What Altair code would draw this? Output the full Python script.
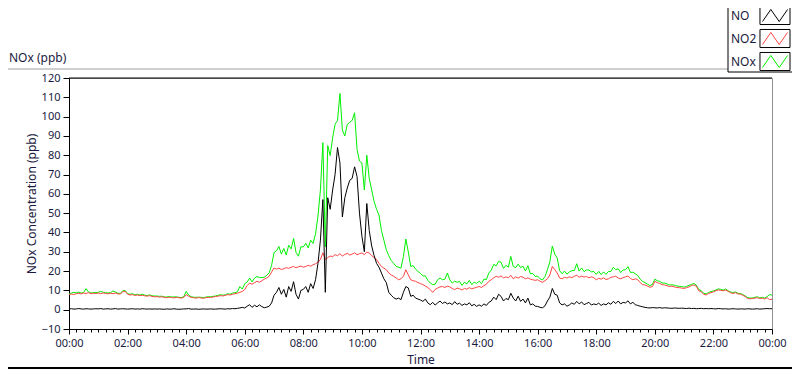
import altair as alt
import pandas as pd

# ---------------- data (5-minute readings, 00:00 .. 24:00) ----------------
series_names = ["NO", "NO2", "NOx"]
series_colors = ["#000000", "#ff4444", "#00f000"]
step_minutes = 5

no_ppb = [
    0.4, 0.5, 0.3, 0.4, 0.6, 0.4, 0.3, 0.5, 0.4, 0.3, 0.4, 0.5,   # 00
    0.4, 0.6, 0.3, 0.4, 0.5, 0.3, 0.4, 0.6, 0.3, 0.4, 0.5, 0.4,   # 01
    0.3, 0.4, 0.5, 0.3, 0.4, 0.3, 0.5, 0.4, 0.3, 0.4, 0.3, 0.4,   # 02
    0.3, 0.4, 0.3, 0.2, 0.4, 0.3, 0.3, 0.5, 0.3, 0.2, 0.3, 0.4,   # 03
    0.4, 0.6, 0.3, 0.3, 0.4, 0.2, 0.3, 0.4, 0.3, 0.3, 0.4, 0.3,   # 04
    0.3, 0.4, 0.5, 0.4, 0.3, 0.5, 0.4, 0.6, 0.5, 0.7, 0.9, 1.2,   # 05
    0.9, 1.8, 2.6, 1.2, 2.3, 1.5, 2.5, 1.6, 1.0, 1.3, 1.8, 3.5,   # 06
    7.5, 9.0, 11.5, 8.0, 10.5, 6.5, 12.0, 9.5, 14.5, 8.0, 5.5, 10.0,  # 07
    10.5, 12.0, 9.0, 13.5, 11.0, 15.5, 24.0, 36.0, 57.0, 9.0, 58.0, 52.0,  # 08
    62.0, 70.0, 84.0, 76.0, 48.0, 58.0, 63.0, 67.0, 68.0, 74.0, 69.0, 50.0,  # 09
    38.0, 30.0, 55.0, 41.0, 33.0, 28.0, 24.0, 22.0, 19.0, 16.0, 14.0, 9.0,  # 10
    7.5, 6.2, 5.5, 6.0, 5.2, 9.0, 12.0, 11.3, 6.9, 7.5, 6.0, 5.5,   # 11
    5.0, 4.3, 5.5, 3.5, 2.6, 3.8, 2.4, 3.5, 4.5, 3.2, 4.0, 3.0,   # 12
    3.5, 2.6, 4.2, 2.8, 3.4, 2.2, 3.0, 2.5, 3.6, 2.0, 2.8, 1.7,   # 13
    2.5, 1.8, 3.0, 2.2, 3.8, 4.5, 6.5, 5.2, 8.0, 6.9, 4.5, 5.8,   # 14
    5.2, 8.5, 6.0, 4.5, 7.0, 4.3, 5.5, 3.5, 6.0, 2.5, 3.0, 1.8,   # 15
    1.7, 1.2, 1.0, 2.0, 4.5, 6.5, 11.0, 8.0, 7.5, 3.5, 2.5, 3.0,  # 16
    1.8, 2.5, 3.5, 2.8, 4.3, 3.0, 4.0, 2.6, 3.2, 3.8, 2.4, 3.0,   # 17
    2.6, 3.4, 2.2, 3.0, 2.5, 3.6, 2.8, 4.3, 3.2, 4.5, 3.0, 3.8,   # 18
    3.5, 4.6, 3.0, 3.8, 2.6, 2.2, 1.8, 1.5, 1.2, 1.0, 0.9, 1.1,   # 19
    1.0, 0.9, 1.1, 0.8, 1.0, 0.9, 0.8, 0.7, 0.9, 0.8, 0.7, 0.8,   # 20
    0.7, 0.6, 0.8, 0.6, 0.7, 0.5, 0.6, 0.7, 0.5, 0.6, 0.5, 0.6,   # 21
    0.5, 0.4, 0.6, 0.5, 0.4, 0.5, 0.3, 0.4, 0.5, 0.4, 0.3, 0.4,   # 22
    0.4, 0.3, 0.5, 0.4, 0.3, 0.4, 0.5, 0.3, 0.4, 0.5, 0.6, 0.5,   # 23
    0.5,
]

no2_ppb = [
    7.8, 8.1, 7.9, 8.3, 8.5, 8.2, 8.6, 8.4, 8.8, 8.3, 8.5, 8.4,   # 00
    8.6, 8.3, 8.7, 8.4, 8.2, 8.5, 8.3, 8.6, 8.2, 8.1, 9.2, 9.6,   # 01
    8.0, 7.6, 7.8, 7.4, 7.6, 7.3, 7.5, 7.2, 7.0, 7.3, 6.9, 6.7,   # 02
    6.8, 6.5, 6.7, 6.4, 6.2, 6.5, 6.3, 6.1, 6.4, 6.2, 6.0, 6.3,   # 03
    7.8, 7.0, 6.4, 6.2, 6.0, 6.3, 6.1, 5.9, 6.2, 6.4, 6.3, 6.6,   # 04
    6.8, 7.0, 7.3, 7.1, 7.4, 7.8, 7.6, 8.0, 8.3, 8.6, 9.0, 9.5,   # 05
    10.5, 12.5, 13.8, 13.2, 14.0, 14.7, 14.2, 15.0, 15.8, 16.5, 17.3, 19.5,  # 06
    21.6, 21.0, 21.5, 20.8, 21.2, 21.8, 21.4, 22.0, 22.4, 21.7, 22.2, 22.6,  # 07
    22.0, 22.4, 23.0, 22.5, 23.3, 23.8, 24.5, 26.0, 29.5, 26.0, 27.0, 27.8,  # 08
    27.5, 28.5, 28.0, 29.0, 27.8, 28.6, 29.2, 28.3, 28.8, 29.5, 28.4, 29.0,  # 09
    29.4, 28.5, 29.8, 29.4, 28.0, 27.0, 26.0, 24.0, 22.4, 21.5, 20.7, 19.0,  # 10
    18.0, 17.3, 16.5, 15.5, 16.0, 17.3, 20.7, 18.0, 15.5, 15.0, 14.7, 14.0,  # 11
    13.5, 13.0, 12.2, 11.5, 10.4, 9.0, 10.5, 11.2, 11.8, 12.0, 11.5, 12.2,  # 12
    11.8, 11.0, 10.4, 11.2, 10.8, 10.2, 11.0, 10.6, 11.4, 10.8, 11.2, 11.6,  # 13
    12.0, 11.5, 12.5, 13.2, 14.7, 15.5, 16.5, 17.3, 16.8, 17.5, 16.5, 17.0,  # 14
    16.5, 17.8, 16.0, 17.0, 16.4, 17.2, 16.8, 16.0, 16.5, 15.8, 15.5, 15.2,  # 15
    15.5, 14.7, 14.2, 15.0, 16.0, 18.0, 22.4, 20.7, 19.0, 16.4, 16.0, 16.8,  # 16
    16.4, 17.0, 16.6, 17.3, 17.8, 16.8, 17.4, 16.9, 17.2, 16.5, 17.0, 16.6,  # 17
    15.5, 16.2, 15.8, 16.5, 15.6, 16.0, 16.8, 17.0, 17.3, 16.4, 16.0, 16.6,  # 18
    17.0, 17.5, 16.2, 15.5, 16.0, 15.5, 14.0, 13.0, 12.8, 12.2, 11.6, 12.0,  # 19
    14.7, 14.0, 13.6, 13.0, 12.8, 12.4, 12.0, 12.2, 11.8, 11.5, 11.4, 11.2,  # 20
    11.0, 11.4, 11.8, 12.5, 12.8, 12.2, 9.8, 9.2, 8.0, 7.6, 8.4, 8.8,   # 21
    9.2, 9.8, 10.2, 10.0, 9.8, 10.2, 9.5, 8.8, 8.4, 8.8, 8.2, 8.0,   # 22
    7.5, 6.8, 5.8, 5.6, 5.8, 6.0, 6.2, 5.8, 6.0, 5.5, 6.2, 5.2,   # 23
    5.4,
]

nox_ppb = [
    8.2, 8.6, 9.0, 8.7, 9.1, 8.6, 8.9, 10.9, 9.2, 8.6, 8.9, 8.9,   # 00
    9.0, 9.5, 9.0, 8.8, 8.7, 8.8, 9.7, 9.2, 8.5, 8.5, 9.7, 10.0,   # 01
    8.3, 8.0, 8.3, 7.7, 8.0, 7.6, 8.0, 7.6, 7.3, 7.7, 7.2, 7.1,   # 02
    7.1, 6.9, 7.0, 6.6, 6.6, 6.8, 6.6, 6.6, 6.7, 6.4, 6.3, 6.7,   # 03
    9.5, 7.6, 6.7, 6.5, 6.4, 6.5, 6.4, 6.3, 6.5, 6.7, 6.7, 6.9,   # 04
    7.1, 7.4, 7.8, 7.5, 7.7, 8.3, 8.0, 8.6, 8.8, 9.3, 12.0, 10.7,  # 05
    13.5, 14.3, 16.4, 14.4, 16.3, 17.2, 16.7, 16.6, 16.8, 17.8, 19.1, 23.0,  # 06
    29.6, 30.5, 32.7, 28.8, 31.7, 28.3, 33.4, 31.5, 36.9, 29.7, 27.7, 32.6,  # 07
    32.5, 34.4, 32.0, 36.0, 34.3, 39.3, 48.5, 62.0, 86.5, 32.5, 85.0, 79.8,  # 08
    89.0, 96.0, 98.0, 112.0, 93.0, 90.0, 96.0, 97.0, 98.0, 102.0, 83.0, 77.0,  # 09
    76.0, 62.0, 80.0, 68.0, 62.0, 56.0, 52.0, 49.0, 41.0, 36.0, 31.0, 28.0,  # 10
    25.5, 24.0, 22.5, 22.0, 21.5, 27.5, 36.6, 30.0, 22.4, 22.8, 21.0, 19.8,  # 11
    18.8, 17.5, 17.5, 15.2, 13.8, 13.0, 13.2, 15.5, 16.4, 15.5, 15.8, 19.0,  # 12
    15.5, 13.8, 14.8, 14.2, 14.6, 12.6, 14.2, 13.4, 15.2, 13.0, 14.2, 13.6,  # 13
    14.7, 13.5, 15.8, 15.6, 19.0, 20.5, 23.5, 22.7, 25.0, 24.6, 21.4, 23.0,  # 14
    22.0, 27.6, 22.3, 21.8, 23.6, 21.8, 22.5, 20.0, 22.8, 18.6, 18.8, 17.2,  # 15
    17.4, 16.0, 15.4, 17.2, 20.7, 24.8, 33.0, 28.8, 26.8, 20.2, 18.6, 20.0,  # 16
    18.4, 19.6, 20.2, 20.3, 23.8, 20.0, 21.6, 19.7, 20.6, 20.5, 19.6, 19.8,  # 17
    18.3, 19.8, 18.2, 19.6, 18.3, 19.8, 19.8, 22.0, 20.7, 21.2, 19.2, 20.6,  # 18
    20.7, 22.3, 19.3, 19.4, 18.6, 17.7, 15.8, 14.6, 14.0, 13.2, 12.5, 13.1,  # 19
    15.8, 15.0, 14.7, 13.8, 13.8, 13.3, 12.8, 12.9, 12.7, 12.3, 12.1, 12.0,  # 20
    11.7, 12.1, 12.6, 13.1, 13.6, 12.7, 10.4, 9.9, 8.5, 8.2, 8.9, 9.4,   # 21
    9.7, 10.2, 10.8, 10.5, 10.2, 10.7, 9.8, 9.2, 8.9, 9.2, 8.5, 8.4,   # 22
    7.9, 7.1, 6.3, 6.0, 6.1, 6.4, 6.7, 6.1, 6.4, 6.0, 6.8, 7.8,   # 23
    7.6,
]

hour_ticks_minor = [i / 4 for i in range(97)]
y_ticks = list(range(-10, 121, 10))

rows = []
for name, vals in zip(series_names, [no_ppb, no2_ppb, nox_ppb]):
    for i, v in enumerate(vals):
        rows.append({"hour": i * step_minutes / 60.0, "series": name, "ppb": v})
df = pd.DataFrame(rows)
legend_df = pd.DataFrame({"label": series_names})
one_row = pd.DataFrame({"k": [0]})

# ---------------- styling ----------------
FONT = "Noto Sans"
TXT = "#1a1a40"
W, H = 703, 251

# legend symbols: drawn to the right of the (tiny) layout square so that
# the labels end up on their left, as in the original instrument panel.
# The zigzag carries two bare move-to points so its bounds match the box.
zigzag = "M5.21,-1.29M9.5,1.29M5.57,0.86L6.76,-0.86L7.96,0.86L9.15,-0.86"
box = "M5.21,-1.29L9.5,-1.29L9.5,1.29L5.21,1.29Z"
LEG_X, LEG_Y = 647, -70
SYM_SIZE = 196

x_enc = alt.X(
    "hour:Q",
    scale=alt.Scale(domain=[0, 24], nice=False, zero=False),
    axis=alt.Axis(
        values=hour_ticks_minor,
        labelExpr="datum.value % 2 === 0 ? ((datum.value % 24 < 10 ? '0' : '') + (datum.value % 24) + ':00') : ''",
        tickSize={"condition": {"test": "datum.value % 2 === 0", "value": 5}, "value": 3},
        labelOverlap=False,
        labelFlush=False,
        labelPadding=3,
        grid=False,
        title="Time",
        titlePadding=6,
    ),
)
y_enc = alt.Y(
    "ppb:Q",
    scale=alt.Scale(domain=[-10, 120], nice=False, zero=False),
    axis=alt.Axis(
        values=y_ticks,
        tickSize=6,
        labelPadding=3,
        grid=False,
        title="NOx Concentration (ppb)",
        titlePadding=3,
    ),
)

legend_lines = alt.Legend(
    title=None, orient="none", legendX=LEG_X, legendY=LEG_Y, padding=0,
    symbolType=zigzag, symbolSize=SYM_SIZE, symbolStrokeWidth=1,
    symbolFillColor="transparent", labelOffset=0,
    labelExpr="' '", labelFont=FONT, labelFontSize=12, rowPadding=0,
)
color_enc = alt.Color(
    "series:N",
    scale=alt.Scale(domain=series_names, range=series_colors),
    legend=legend_lines,
)


def line_layer(name):
    return (
        alt.Chart(df)
        .transform_filter(alt.datum.series == name)
        .mark_line(strokeWidth=1)
        .encode(x=x_enc, y=y_enc, color=color_enc)
    )


legend_boxes = (
    alt.Chart(legend_df)
    .mark_point(opacity=0)
    .encode(
        shape=alt.Shape(
            "label:N",
            scale=alt.Scale(range=[box, box, box]),
            legend=alt.Legend(
                title=None, orient="none", legendX=LEG_X, legendY=LEG_Y, padding=0,
                symbolSize=SYM_SIZE, symbolStrokeColor="black", symbolFillColor="transparent",
                symbolStrokeWidth=1, symbolOpacity=1, labelOffset=0,
                labelFont=FONT, labelFontSize=12, labelColor=TXT, rowPadding=0,
            ),
        )
    )
)

top_frame = alt.Chart(one_row).mark_rule(color="black", strokeWidth=1).encode(
    x=alt.value(0), x2=alt.value(W), y=alt.value(0)
)
outer_line = alt.Chart(one_row).mark_rule(color="#a0a0a0", strokeWidth=1).encode(
    x=alt.value(-61), x2=alt.value(659), y=alt.value(-9)
)
bottom_line = alt.Chart(one_row).mark_rule(color="black", strokeWidth=2).encode(
    x=alt.value(-61), x2=alt.value(723), y=alt.value(290)
)
legend_frame_v = alt.Chart(one_row).mark_rule(color="black", strokeWidth=1).encode(
    x=alt.value(659), y=alt.value(-71), y2=alt.value(-6)
)
legend_frame_h = alt.Chart(one_row).mark_rule(color="black", strokeWidth=1).encode(
    x=alt.value(659), x2=alt.value(724), y=alt.value(-6)
)
graph_label = alt.Chart(one_row).mark_text(
    align="left", baseline="middle", font=FONT, fontSize=12, color=TXT
).encode(x=alt.value(-60), y=alt.value(-20), text=alt.value("NOx (ppb)"))

chart = (
    alt.layer(
        line_layer("NOx"),
        line_layer("NO2"),
        line_layer("NO"),
        legend_boxes,
        top_frame,
        outer_line,
        bottom_line,
        legend_frame_v,
        legend_frame_h,
        graph_label,
    )
    .properties(
        width=W,
        height=H,
        autosize=alt.AutoSizeParams(type="none"),
        padding={"left": 61, "top": 70, "right": 20, "bottom": 40},
    )
    .configure_view(stroke="#909090", strokeWidth=1)
    .configure_axis(
        labelFont=FONT,
        labelFontSize=11,
        labelColor=TXT,
        titleFont=FONT,
        titleFontSize=12,
        titleFontWeight="normal",
        titleColor=TXT,
        domainColor="black",
        tickColor="black",
    )
)

chart.save("out.html", embed_options={"renderer": "svg", "actions": False})
